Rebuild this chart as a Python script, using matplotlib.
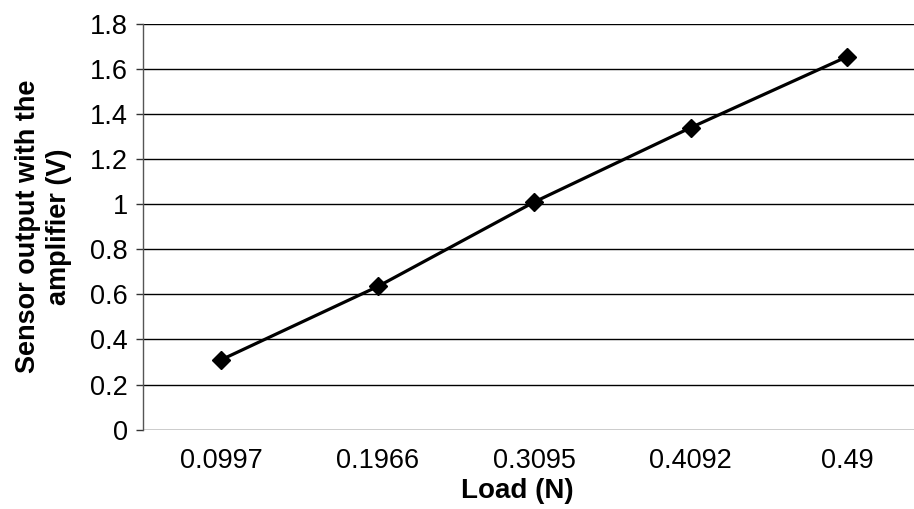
import numpy as np
import matplotlib.pyplot as plt

plt.rcParams['font.family'] = ['Liberation Sans', 'DejaVu Sans']

loads = ['0.0997', '0.1966', '0.3095', '0.4092', '0.49']
output_v = [0.31, 0.635, 1.01, 1.34, 1.655]

fig = plt.figure(figsize=(9.14, 5.09), dpi=100)
ax = fig.add_axes([0.1565, 0.156, 0.8435, 0.797])

x = np.arange(len(loads))
ax.plot(x, output_v, color='black', lw=2.3, marker='D', markersize=9, zorder=3)

ax.set_ylim(0, 1.8)
ax.set_yticks(np.arange(0, 1.81, 0.2))
ax.set_yticklabels(['0', '0.2', '0.4', '0.6', '0.8', '1', '1.2', '1.4', '1.6', '1.8'])
ax.set_xlim(-0.5, 4.426)
ax.set_xticks(x)
ax.set_xticklabels(loads)

ax.grid(axis='y', color='black', lw=1.0)
ax.set_axisbelow(True)
for s in ['top', 'right', 'bottom']:
    ax.spines[s].set_visible(False)
ax.spines['left'].set_color('#555555')
ax.spines['left'].set_linewidth(1.0)

ax.tick_params(axis='y', direction='out', length=5, width=1, color='#333333', labelsize=19.5, pad=6)
ax.tick_params(axis='x', length=0, labelsize=19.5, pad=13)

ax.set_xlabel('Load (N)', fontsize=20, fontweight='bold')
ax.xaxis.set_label_coords(0.485, -0.12)
ax.set_ylabel('Sensor output with the\namplifier (V)', fontsize=19.5, fontweight='bold',
              linespacing=1.25)
ax.yaxis.set_label_coords(-0.092, 0.5)

fig.savefig('out.png', dpi=100)
